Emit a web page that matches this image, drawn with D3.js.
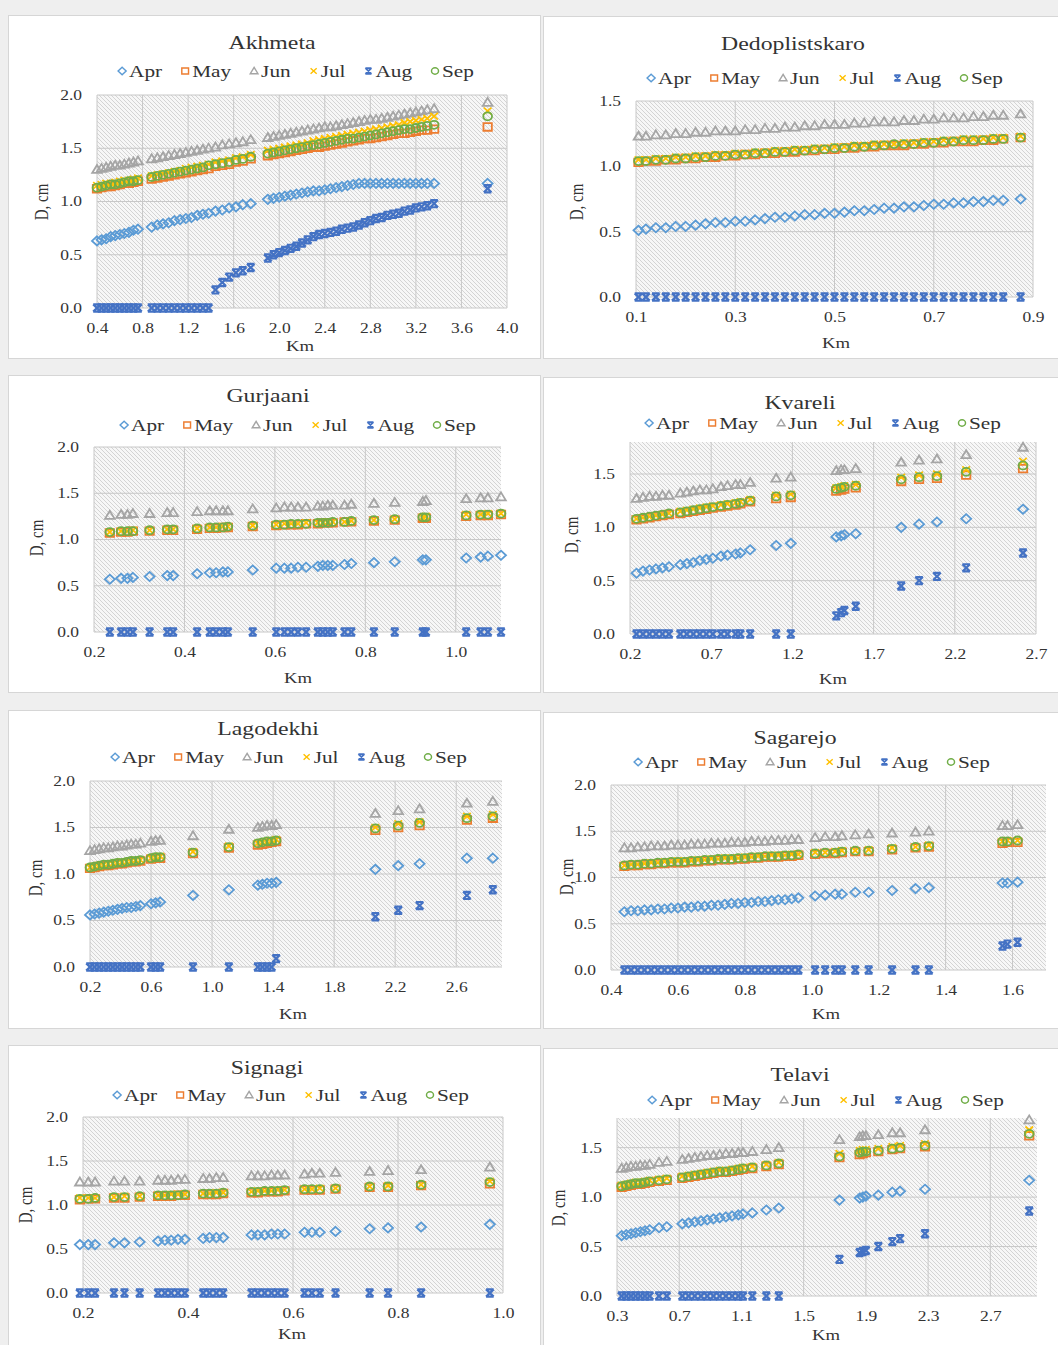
<!DOCTYPE html>
<html>
<head>
<meta charset="utf-8">
<script src="https://cdn.jsdelivr.net/npm/d3@7"></script>
<style>
  body { margin: 0; background: #efefef; }
  svg { display: block; }
  text { font-family: "Liberation Serif", "Times New Roman", serif; fill: #333; }
</style>
</head>
<body>
<svg id="fig" width="1058" height="1345"></svg>
<script>
// series names and colours
const months = ['Apr', 'May', 'Jun', 'Jul', 'Aug', 'Sep'];
const monthColors = ['#5b9bd5', '#ed7d31', '#a5a5a5', '#ffc000', '#4472c4', '#70ad47'];

// ---------- Akhmeta
const akhmetaKm = [0.40,0.44,0.48,0.52,0.56,0.60,0.64,0.68,0.72,0.76,
  0.88,0.93,0.98,1.03,1.08,1.13,1.18,1.23,1.28,1.33,1.38,1.44,1.50,1.56,1.62,1.68,1.75,
  1.90,1.95,2.00,2.05,2.10,2.15,2.20,2.25,2.30,2.35,2.40,2.45,2.50,2.55,2.60,2.65,2.70,2.75,2.80,2.85,2.90,2.95,3.00,3.05,3.10,3.15,3.20,3.25,3.30,3.36,
  3.83];
const akhmetaApr = [0.63,0.64,0.65,0.67,0.68,0.69,0.70,0.71,0.73,0.74,
  0.76,0.78,0.79,0.80,0.82,0.83,0.84,0.85,0.87,0.88,0.89,0.91,0.92,0.94,0.95,0.97,0.98,
  1.02,1.03,1.04,1.05,1.06,1.07,1.08,1.09,1.10,1.10,1.11,1.12,1.13,1.14,1.15,1.16,1.17,1.17,1.17,1.17,1.17,1.17,1.17,1.17,1.17,1.17,1.17,1.17,1.17,1.17,
  1.17];
const akhmetaMay = [1.12,1.13,1.14,1.14,1.15,1.16,1.17,1.17,1.18,1.19,
  1.21,1.22,1.23,1.24,1.25,1.26,1.27,1.28,1.29,1.30,1.31,1.33,1.34,1.35,1.37,1.38,1.40,
  1.43,1.44,1.45,1.46,1.47,1.48,1.49,1.50,1.51,1.51,1.52,1.53,1.54,1.55,1.56,1.57,1.58,1.59,1.59,1.60,1.61,1.62,1.63,1.64,1.64,1.65,1.66,1.67,1.67,1.68,
  1.70];
const akhmetaJun = [1.30,1.31,1.32,1.33,1.34,1.34,1.35,1.36,1.37,1.38,
  1.40,1.41,1.42,1.43,1.44,1.45,1.46,1.47,1.48,1.49,1.50,1.51,1.53,1.54,1.55,1.56,1.58,
  1.60,1.61,1.62,1.63,1.64,1.65,1.66,1.67,1.68,1.69,1.70,1.70,1.71,1.72,1.73,1.74,1.75,1.76,1.77,1.77,1.78,1.79,1.80,1.81,1.82,1.83,1.84,1.85,1.86,1.87,
  1.93];
const akhmetaJul = [1.15,1.16,1.17,1.17,1.18,1.19,1.20,1.20,1.21,1.22,
  1.24,1.25,1.26,1.27,1.28,1.29,1.31,1.32,1.33,1.34,1.35,1.37,1.38,1.39,1.41,1.42,1.44,
  1.48,1.49,1.50,1.51,1.52,1.53,1.54,1.55,1.57,1.58,1.59,1.60,1.61,1.62,1.63,1.64,1.65,1.66,1.67,1.68,1.69,1.70,1.71,1.72,1.74,1.75,1.76,1.77,1.78,1.80,
  1.85];
const akhmetaAug = [0,0,0,0,0,0,0,0,0,0,
  0,0,0,0,0,0,0,0,0,0,0,0.17,0.24,0.29,0.33,0.35,0.38,
  0.47,0.50,0.52,0.54,0.56,0.58,0.61,0.64,0.67,0.69,0.70,0.71,0.72,0.74,0.75,0.76,0.78,0.80,0.82,0.84,0.85,0.87,0.88,0.89,0.91,0.92,0.94,0.95,0.96,0.98,
  1.12];
const akhmetaSep = [1.13,1.14,1.15,1.16,1.16,1.17,1.18,1.19,1.19,1.20,
  1.23,1.24,1.25,1.26,1.27,1.28,1.29,1.30,1.31,1.32,1.34,1.35,1.36,1.37,1.39,1.40,1.42,
  1.45,1.46,1.47,1.48,1.49,1.50,1.51,1.52,1.53,1.54,1.55,1.56,1.57,1.58,1.59,1.59,1.60,1.61,1.62,1.63,1.64,1.65,1.66,1.67,1.68,1.68,1.69,1.70,1.71,1.72,
  1.80];
const akhmetaXTicks = [0.4,0.8,1.2,1.6,2.0,2.4,2.8,3.2,3.6,4.0];

// ---------- Dedoplistskaro
const dedoKm = [0.105,0.12,0.14,0.16,0.18,0.20,0.22,0.24,0.26,0.28,0.30,0.32,0.34,0.36,0.38,0.40,0.42,0.44,0.46,0.48,
  0.50,0.52,0.54,0.56,0.58,0.60,0.62,0.64,0.66,0.68,0.70,0.72,0.74,0.76,0.78,0.80,0.82,0.84,0.875];
const dedoApr = [0.51,0.52,0.53,0.53,0.54,0.54,0.55,0.56,0.57,0.57,0.58,0.58,0.59,0.60,0.61,0.61,0.62,0.63,0.63,0.64,
  0.64,0.65,0.66,0.66,0.67,0.68,0.68,0.69,0.69,0.70,0.71,0.71,0.72,0.72,0.73,0.73,0.74,0.74,0.75];
const dedoMay = [1.03,1.04,1.04,1.05,1.05,1.06,1.06,1.07,1.07,1.08,1.08,1.09,1.09,1.10,1.10,1.11,1.11,1.12,1.12,1.13,
  1.13,1.14,1.14,1.15,1.15,1.16,1.16,1.16,1.17,1.17,1.18,1.18,1.19,1.19,1.19,1.20,1.20,1.21,1.22];
const dedoJun = [1.23,1.23,1.24,1.24,1.25,1.25,1.26,1.26,1.27,1.27,1.27,1.28,1.28,1.29,1.29,1.30,1.30,1.31,1.31,1.32,
  1.32,1.32,1.33,1.33,1.34,1.34,1.34,1.35,1.35,1.36,1.36,1.37,1.37,1.37,1.38,1.38,1.39,1.39,1.40];
const dedoJul = [1.05,1.05,1.06,1.06,1.07,1.07,1.08,1.08,1.09,1.09,1.10,1.10,1.11,1.11,1.12,1.12,1.13,1.13,1.14,1.14,
  1.15,1.15,1.16,1.16,1.17,1.17,1.17,1.18,1.18,1.19,1.19,1.20,1.20,1.21,1.21,1.21,1.22,1.22,1.23];
const dedoAug = [0,0,0,0,0,0,0,0,0,0,0,0,0,0,0,0,0,0,0,0,
  0,0,0,0,0,0,0,0,0,0,0,0,0,0,0,0,0,0,0];
const dedoSep = [1.04,1.04,1.05,1.05,1.06,1.06,1.07,1.07,1.08,1.08,1.09,1.09,1.10,1.10,1.11,1.11,1.12,1.12,1.13,1.13,
  1.14,1.14,1.15,1.15,1.16,1.16,1.17,1.17,1.17,1.18,1.18,1.19,1.19,1.20,1.20,1.20,1.21,1.21,1.22];
const dedoXTicks = [0.1,0.3,0.5,0.7,0.9];

// ---------- Gurjaani
const gurKm = [0.235,0.26,0.274,0.286,0.323,0.362,0.375,0.428,0.456,0.47,0.485,0.496,0.551,0.603,0.621,0.636,
  0.651,0.669,0.695,0.706,0.717,0.728,0.754,0.769,0.819,0.865,0.927,0.934,1.023,1.055,1.071,1.10];
const gurApr = [0.57,0.58,0.58,0.59,0.60,0.61,0.61,0.63,0.64,0.64,0.65,0.65,0.67,0.69,0.69,0.69,
  0.70,0.70,0.71,0.72,0.72,0.72,0.73,0.74,0.75,0.76,0.78,0.78,0.80,0.81,0.82,0.83];
const gurMay = [1.07,1.08,1.08,1.09,1.09,1.10,1.10,1.11,1.12,1.12,1.13,1.13,1.14,1.15,1.16,1.16,
  1.16,1.17,1.17,1.18,1.18,1.18,1.19,1.19,1.20,1.21,1.23,1.23,1.25,1.26,1.26,1.27];
const gurJun = [1.26,1.27,1.27,1.28,1.28,1.29,1.29,1.30,1.31,1.31,1.31,1.31,1.33,1.34,1.35,1.35,
  1.35,1.35,1.36,1.36,1.37,1.37,1.37,1.38,1.39,1.40,1.41,1.42,1.44,1.45,1.45,1.46];
const gurJul = [1.08,1.09,1.09,1.10,1.10,1.11,1.11,1.12,1.13,1.13,1.14,1.14,1.15,1.16,1.17,1.17,
  1.17,1.18,1.18,1.18,1.19,1.19,1.19,1.20,1.21,1.22,1.24,1.25,1.27,1.27,1.28,1.28];
const gurAug = [0,0,0,0,0,0,0,0,0,0,0,0,0,0,0,0,
  0,0,0,0,0,0,0,0,0,0,0,0,0,0,0,0];
const gurSep = [1.08,1.09,1.09,1.09,1.10,1.11,1.11,1.12,1.13,1.13,1.13,1.14,1.15,1.16,1.16,1.17,
  1.17,1.17,1.18,1.18,1.18,1.19,1.19,1.20,1.21,1.22,1.24,1.24,1.26,1.27,1.27,1.28];
const gurXTicks = [0.2,0.4,0.6,0.8,1.0];

// ---------- Kvareli
const kvaKm = [0.24,0.28,0.32,0.36,0.40,0.44,0.51,0.55,0.59,0.63,0.67,0.71,0.76,0.80,0.85,0.88,0.94,
  1.10,1.19,1.47,1.50,1.52,1.59,1.87,1.98,2.09,2.27,2.62];
const kvaApr = [0.57,0.59,0.60,0.61,0.62,0.63,0.65,0.66,0.67,0.69,0.70,0.71,0.73,0.74,0.75,0.76,0.79,
  0.83,0.85,0.91,0.92,0.93,0.94,1.00,1.03,1.05,1.08,1.17];
const kvaMay = [1.07,1.08,1.09,1.10,1.11,1.12,1.13,1.14,1.15,1.16,1.17,1.18,1.19,1.20,1.21,1.22,1.24,
  1.27,1.28,1.34,1.35,1.36,1.37,1.43,1.45,1.46,1.49,1.55];
const kvaJun = [1.27,1.28,1.29,1.29,1.30,1.30,1.32,1.33,1.34,1.35,1.35,1.36,1.38,1.39,1.40,1.40,1.42,
  1.46,1.47,1.53,1.54,1.54,1.55,1.61,1.63,1.64,1.68,1.75];
const kvaJul = [1.08,1.09,1.10,1.11,1.12,1.13,1.15,1.16,1.17,1.18,1.19,1.20,1.21,1.22,1.23,1.24,1.26,
  1.30,1.31,1.37,1.38,1.39,1.40,1.47,1.49,1.50,1.54,1.62];
const kvaAug = [0,0,0,0,0,0,0,0,0,0,0,0,0,0,0,0,0,
  0,0,0.17,0.20,0.22,0.26,0.45,0.50,0.54,0.62,0.76];
const kvaSep = [1.08,1.09,1.10,1.11,1.12,1.13,1.14,1.15,1.16,1.17,1.18,1.19,1.20,1.21,1.22,1.23,1.25,
  1.29,1.30,1.36,1.37,1.38,1.39,1.45,1.47,1.48,1.52,1.58];
const kvaXTicks = [0.2,0.7,1.2,1.7,2.2,2.7];

// ---------- Lagodekhi
const lagKm = [0.20,0.23,0.26,0.29,0.32,0.35,0.38,0.41,0.44,0.47,0.50,0.53,0.60,0.63,0.66,0.875,1.11,
  1.30,1.33,1.36,1.39,1.42,2.07,2.22,2.36,2.67,2.84];
const lagApr = [0.56,0.57,0.58,0.59,0.60,0.61,0.62,0.63,0.64,0.64,0.65,0.66,0.68,0.69,0.70,0.77,0.83,
  0.88,0.89,0.90,0.90,0.91,1.05,1.09,1.11,1.17,1.17];
const lagMay = [1.06,1.07,1.08,1.09,1.09,1.10,1.11,1.11,1.12,1.13,1.13,1.14,1.16,1.17,1.17,1.22,1.28,
  1.31,1.32,1.33,1.34,1.35,1.47,1.50,1.52,1.58,1.60];
const lagJun = [1.25,1.26,1.27,1.28,1.28,1.29,1.30,1.30,1.31,1.32,1.32,1.33,1.35,1.36,1.36,1.41,1.48,
  1.50,1.51,1.52,1.52,1.53,1.65,1.68,1.70,1.76,1.78];
const lagJul = [1.07,1.08,1.09,1.10,1.11,1.11,1.12,1.13,1.13,1.14,1.15,1.15,1.17,1.18,1.19,1.24,1.30,
  1.33,1.34,1.35,1.36,1.37,1.50,1.54,1.56,1.62,1.64];
const lagAug = [0,0,0,0,0,0,0,0,0,0,0,0,0,0,0,0,0,
  0,0,0,0,0.09,0.54,0.61,0.66,0.77,0.83];
const lagSep = [1.07,1.08,1.09,1.10,1.10,1.11,1.12,1.12,1.13,1.14,1.14,1.15,1.17,1.18,1.18,1.23,1.29,
  1.33,1.34,1.35,1.35,1.36,1.49,1.52,1.55,1.60,1.62];
const lagXTicks = [0.2,0.6,1.0,1.4,1.8,2.2,2.6];

// ---------- Sagarejo
const sagKm = [0.44,0.46,0.48,0.50,0.52,0.54,0.56,0.58,0.60,0.62,0.64,0.66,0.68,0.70,0.72,0.74,0.76,0.78,0.80,0.82,
  0.84,0.86,0.88,0.90,0.92,0.94,0.96,1.01,1.04,1.07,1.09,1.13,1.17,1.24,1.31,1.35,1.57,1.585,1.615];
const sagApr = [0.63,0.64,0.64,0.65,0.65,0.66,0.66,0.67,0.67,0.68,0.68,0.69,0.69,0.70,0.70,0.71,0.72,0.72,0.73,0.73,
  0.74,0.74,0.75,0.76,0.76,0.77,0.78,0.80,0.81,0.82,0.82,0.84,0.84,0.86,0.88,0.89,0.94,0.94,0.95];
const sagMay = [1.12,1.13,1.13,1.14,1.14,1.15,1.15,1.16,1.16,1.16,1.17,1.17,1.18,1.18,1.19,1.19,1.19,1.20,1.20,1.21,
  1.21,1.22,1.22,1.22,1.23,1.23,1.24,1.25,1.26,1.26,1.27,1.28,1.28,1.30,1.32,1.33,1.37,1.38,1.38];
const sagJun = [1.32,1.32,1.33,1.33,1.34,1.34,1.34,1.35,1.35,1.35,1.36,1.36,1.36,1.37,1.37,1.37,1.38,1.38,1.38,1.39,
  1.39,1.39,1.40,1.40,1.40,1.41,1.41,1.43,1.44,1.44,1.45,1.46,1.47,1.48,1.49,1.50,1.56,1.56,1.57];
const sagJul = [1.13,1.14,1.14,1.15,1.16,1.16,1.17,1.17,1.18,1.18,1.18,1.19,1.19,1.20,1.20,1.21,1.21,1.21,1.22,1.22,
  1.23,1.23,1.24,1.24,1.24,1.25,1.25,1.27,1.27,1.28,1.29,1.29,1.30,1.32,1.33,1.35,1.39,1.40,1.40];
const sagAug = [0,0,0,0,0,0,0,0,0,0,0,0,0,0,0,0,0,0,0,0,
  0,0,0,0,0,0,0,0,0,0,0,0,0,0,0,0,0.26,0.28,0.30];
const sagSep = [1.13,1.14,1.14,1.15,1.15,1.16,1.16,1.17,1.17,1.17,1.18,1.18,1.19,1.19,1.20,1.20,1.20,1.21,1.21,1.22,
  1.22,1.23,1.23,1.23,1.24,1.24,1.25,1.26,1.27,1.27,1.28,1.29,1.29,1.31,1.33,1.34,1.39,1.39,1.40];
const sagXTicks = [0.4,0.6,0.8,1.0,1.2,1.4,1.6];

// ---------- Signagi
const sigKm = [0.194,0.21,0.223,0.259,0.279,0.308,0.343,0.356,0.368,0.381,0.394,0.429,0.441,0.454,0.467,
  0.521,0.533,0.546,0.559,0.571,0.584,0.622,0.636,0.651,0.681,0.746,0.781,0.844,0.975];
const sigApr = [0.55,0.55,0.55,0.57,0.57,0.58,0.59,0.60,0.60,0.61,0.61,0.62,0.63,0.63,0.63,
  0.66,0.66,0.66,0.67,0.67,0.67,0.69,0.69,0.69,0.70,0.73,0.74,0.75,0.78];
const sigMay = [1.06,1.07,1.07,1.08,1.08,1.09,1.10,1.10,1.10,1.11,1.11,1.12,1.12,1.12,1.13,
  1.14,1.14,1.15,1.15,1.15,1.16,1.17,1.17,1.17,1.18,1.20,1.20,1.22,1.24];
const sigJun = [1.26,1.26,1.26,1.27,1.27,1.27,1.28,1.28,1.28,1.29,1.29,1.30,1.30,1.31,1.31,
  1.33,1.33,1.33,1.34,1.34,1.34,1.35,1.36,1.36,1.37,1.38,1.39,1.40,1.43];
const sigJul = [1.08,1.08,1.08,1.09,1.10,1.10,1.11,1.11,1.12,1.12,1.12,1.13,1.13,1.14,1.14,
  1.15,1.16,1.16,1.16,1.17,1.17,1.18,1.18,1.19,1.19,1.21,1.22,1.23,1.27];
const sigAug = [0,0,0,0,0,0,0,0,0,0,0,0,0,0,0,
  0,0,0,0,0,0,0,0,0,0,0,0,0,0];
const sigSep = [1.07,1.07,1.08,1.09,1.09,1.10,1.11,1.11,1.11,1.11,1.12,1.13,1.13,1.13,1.14,
  1.15,1.15,1.16,1.16,1.16,1.17,1.18,1.18,1.18,1.19,1.21,1.21,1.23,1.26];
const sigXTicks = [0.2,0.4,0.6,0.8,1.0];

// ---------- Telavi
const telKm = [0.33,0.36,0.39,0.42,0.45,0.48,0.51,0.57,0.62,0.72,0.76,0.80,0.84,0.88,0.92,0.96,1.00,1.04,1.08,1.11,
  1.17,1.26,1.34,1.73,1.86,1.88,1.90,1.98,2.07,2.12,2.28,2.95];
const telApr = [0.61,0.62,0.63,0.64,0.65,0.66,0.67,0.69,0.70,0.73,0.74,0.75,0.76,0.77,0.78,0.79,0.80,0.81,0.82,0.83,
  0.84,0.87,0.89,0.97,0.99,1.00,1.01,1.02,1.05,1.06,1.08,1.17];
const telMay = [1.10,1.11,1.12,1.13,1.13,1.14,1.15,1.16,1.17,1.19,1.20,1.21,1.22,1.23,1.24,1.25,1.25,1.26,1.27,1.28,
  1.29,1.31,1.33,1.40,1.43,1.44,1.45,1.46,1.48,1.49,1.51,1.62];
const telJun = [1.29,1.30,1.31,1.31,1.32,1.32,1.33,1.35,1.36,1.38,1.39,1.40,1.41,1.42,1.42,1.43,1.44,1.44,1.45,1.45,
  1.46,1.48,1.50,1.58,1.61,1.62,1.62,1.63,1.65,1.65,1.68,1.78];
const telJul = [1.12,1.13,1.14,1.15,1.15,1.16,1.17,1.18,1.19,1.21,1.22,1.23,1.24,1.25,1.26,1.27,1.27,1.28,1.29,1.30,
  1.31,1.33,1.35,1.44,1.47,1.48,1.48,1.49,1.51,1.52,1.54,1.68];
const telAug = [0,0,0,0,0,0,0,0,0,0,0,0,0,0,0,0,0,0,0,0,
  0,0,0,0.37,0.44,0.45,0.46,0.50,0.55,0.58,0.63,0.86];
const telSep = [1.11,1.12,1.13,1.14,1.14,1.15,1.16,1.17,1.18,1.20,1.21,1.22,1.23,1.24,1.25,1.26,1.26,1.27,1.28,1.29,
  1.30,1.32,1.34,1.41,1.45,1.46,1.46,1.47,1.49,1.50,1.52,1.64];
const telXTicks = [0.3,0.7,1.1,1.5,1.9,2.3,2.7];

const yTicksTo2 = [0, 0.5, 1.0, 1.5, 2.0];
const yTicksTo15 = [0, 0.5, 1.0, 1.5];

// panel set-up: data references + where each piece sits on the page
const panels = [
  { name: 'Akhmeta', km: akhmetaKm, d: [akhmetaApr, akhmetaMay, akhmetaJun, akhmetaJul, akhmetaAug, akhmetaSep],
    xTicks: akhmetaXTicks, yTicks: yTicksTo2, xDom: [0.4, 4.0], yDom: [0, 2],
    box: [8, 15, 532, 343], px: [97, 507], py: [308, 95],
    title: [272, 42], legend: [296, 71], ylab: [41, 202], klab: [300, 346] },
  { name: 'Dedoplistskaro', km: dedoKm, d: [dedoApr, dedoMay, dedoJun, dedoJul, dedoAug, dedoSep],
    xTicks: dedoXTicks, yTicks: yTicksTo15, xDom: [0.1, 0.9], yDom: [0, 1.5],
    box: [543, 16, 525, 342], px: [636, 1033], py: [297, 101],
    title: [793, 43], legend: [825, 78], ylab: [576, 202], klab: [836, 343] },
  { name: 'Gurjaani', km: gurKm, d: [gurApr, gurMay, gurJun, gurJul, gurAug, gurSep],
    xTicks: gurXTicks, yTicks: yTicksTo2, xDom: [0.2, 1.1], yDom: [0, 2],
    box: [8, 375, 532, 317], px: [94, 501], py: [632, 447],
    title: [268, 395], legend: [298, 425], ylab: [36, 538], klab: [298, 678] },
  { name: 'Kvareli', km: kvaKm, d: [kvaApr, kvaMay, kvaJun, kvaJul, kvaAug, kvaSep],
    xTicks: kvaXTicks, yTicks: yTicksTo15, xDom: [0.2, 2.7], yDom: [0, 1.8],
    box: [543, 377, 525, 315], px: [630, 1036], py: [634, 442],
    title: [800, 402], legend: [823, 423], ylab: [571, 535], klab: [833, 679] },
  { name: 'Lagodekhi', km: lagKm, d: [lagApr, lagMay, lagJun, lagJul, lagAug, lagSep],
    xTicks: lagXTicks, yTicks: yTicksTo2, xDom: [0.2, 2.9], yDom: [0, 2],
    box: [8, 710, 532, 318], px: [90, 502], py: [967, 781],
    title: [268, 728], legend: [289, 757], ylab: [35, 878], klab: [293, 1014] },
  { name: 'Sagarejo', km: sagKm, d: [sagApr, sagMay, sagJun, sagJul, sagAug, sagSep],
    xTicks: sagXTicks, yTicks: yTicksTo2, xDom: [0.4, 1.7], yDom: [0, 2],
    box: [543, 712, 525, 316], px: [611, 1046], py: [970, 785],
    title: [795, 737], legend: [812, 762], ylab: [566, 877], klab: [826, 1014] },
  { name: 'Signagi', km: sigKm, d: [sigApr, sigMay, sigJun, sigJul, sigAug, sigSep],
    xTicks: sigXTicks, yTicks: yTicksTo2, xDom: [0.2, 1.0], yDom: [0, 2],
    box: [8, 1045, 532, 310], px: [83, 503], py: [1293, 1117],
    title: [267, 1067], legend: [291, 1095], ylab: [25, 1205], klab: [292, 1334] },
  { name: 'Telavi', km: telKm, d: [telApr, telMay, telJun, telJul, telAug, telSep],
    xTicks: telXTicks, yTicks: yTicksTo15, xDom: [0.3, 3.0], yDom: [0, 1.8],
    box: [543, 1048, 525, 310], px: [617, 1037], py: [1296, 1118],
    title: [800, 1074], legend: [826, 1100], ylab: [558, 1208], klab: [826, 1335] }
];

// marker shapes (Excel style), a little wide like the source
const markerPath = {
  Apr: 'M0,-4.6L5,0L0,4.6L-5,0Z',
  May: 'M-4.2,-3.8H4.2V3.8H-4.2Z',
  Jun: 'M0,-4.6L4.8,3.4L-4.8,3.4Z',
  Jul: 'M-3.8,-3.4L3.8,3.4M-3.8,3.4L3.8,-3.4',
  Aug: 'M-3.8,-3.6L3.8,3.6M-3.8,3.6L3.8,-3.6M-3.8,-3.6H3.8M-3.8,3.6H3.8',
  Sep: 'M-4.4,0A4.4,4,0,1,0,4.4,0A4.4,4,0,1,0,-4.4,0Z'
};
const legendScale = 0.8;
const SX = 1.25; // the source image is stretched sideways

const svg = d3.select('#fig');
const defs = svg.append('defs');
const hatch = defs.append('pattern')
  .attr('id', 'hatch').attr('patternUnits', 'userSpaceOnUse')
  .attr('width', 4).attr('height', 4);
hatch.append('rect').attr('width', 4).attr('height', 4).attr('fill', '#f7f7f7');
hatch.append('path')
  .attr('d', 'M-1,-1L5,5M-1,3L1,5M3,-1L5,1')
  .attr('stroke', '#cbcbcb').attr('stroke-width', 0.8);

function drawMarker(sel, m, i) {
  sel.attr('d', markerPath[m])
    .attr('fill', 'none')
    .attr('stroke', monthColors[i])
    .attr('stroke-width', m === 'Aug' ? 2.2 : 1.8);
}

panels.forEach(p => {
  const g = svg.append('g');
  const x = d3.scaleLinear().domain(p.xDom).range(p.px);
  const y = d3.scaleLinear().domain(p.yDom).range(p.py);

  // frame
  g.append('rect')
    .attr('x', p.box[0] + 0.5).attr('y', p.box[1] + 0.5)
    .attr('width', p.box[2]).attr('height', p.box[3])
    .attr('fill', '#fff').attr('stroke', '#d6d6d6');

  // plot area with hatch
  g.append('rect')
    .attr('x', p.px[0]).attr('y', p.py[1])
    .attr('width', p.px[1] - p.px[0]).attr('height', p.py[0] - p.py[1])
    .attr('fill', 'url(#hatch)');

  // gridlines
  g.append('g').selectAll('line').data(p.yTicks).join('line')
    .attr('x1', p.px[0]).attr('x2', p.px[1])
    .attr('y1', d => y(d)).attr('y2', d => y(d))
    .attr('stroke', '#c8c8c8').attr('stroke-width', 1);
  g.append('g').selectAll('line').data(p.xTicks).join('line')
    .attr('x1', d => x(d)).attr('x2', d => x(d))
    .attr('y1', p.py[0]).attr('y2', p.py[1])
    .attr('stroke', '#c8c8c8').attr('stroke-width', 1);

  // axes (labels only)
  const fmt = d3.format('.1f');
  const xa = g.append('g')
    .attr('transform', `translate(0,${p.py[0]})`)
    .call(d3.axisBottom(x).tickValues(p.xTicks).tickSize(0).tickPadding(15).tickFormat(fmt));
  const ya = g.append('g')
    .attr('transform', `translate(${p.px[0]},0)`)
    .call(d3.axisLeft(y).tickValues(p.yTicks).tickSize(0).tickPadding(12).tickFormat(fmt));
  [xa, ya].forEach(a => {
    a.select('.domain').remove();
    a.attr('font-family', null).attr('font-size', 14);
    a.selectAll('text').attr('fill', '#333').attr('transform', `scale(${SX},1)`);
  });

  // title
  g.append('text')
    .attr('transform', `translate(${p.title[0]},${p.title[1]}) scale(${SX},1)`)
    .attr('text-anchor', 'middle').attr('dy', '0.35em')
    .attr('font-size', 19).attr('fill', '#222')
    .text(p.name);

  // axis titles
  g.append('text')
    .attr('transform', `translate(${p.klab[0]},${p.klab[1]}) scale(${SX},1)`)
    .attr('text-anchor', 'middle').attr('dy', '0.35em')
    .attr('font-size', 15)
    .text('Km');
  g.append('text')
    .attr('transform', `translate(${p.ylab[0]},${p.ylab[1]}) rotate(-90) scale(1,${SX})`)
    .attr('text-anchor', 'middle').attr('dy', '0.35em')
    .attr('font-size', 15)
    .text('D, cm');

  // series, Apr first so Sep ends on top
  months.forEach((m, i) => {
    const pts = p.km.map((k, j) => [k, p.d[i][j]]);
    g.append('g').selectAll('path').data(pts).join('path')
      .attr('transform', d => `translate(${x(d[0])},${y(d[1])})`)
      .call(drawMarker, m, i);
  });

  // legend
  const lg = g.append('g');
  let cx = 0;
  months.forEach((m, i) => {
    const it = lg.append('g').attr('transform', `translate(${cx},0)`);
    it.append('path').attr('transform', `scale(${legendScale})`).call(drawMarker, m, i);
    const t = it.append('text')
      .attr('transform', `translate(7,0) scale(${SX},1)`)
      .attr('dy', '0.35em').attr('font-size', 17)
      .text(m);
    cx += 7 + t.node().getComputedTextLength() * SX + (i < months.length - 1 ? 23 : 0);
  });
  const total = cx + 4;
  lg.attr('transform', `translate(${p.legend[0] - total / 2 + 4},${p.legend[1]})`);
});
</script>
</body>
</html>
